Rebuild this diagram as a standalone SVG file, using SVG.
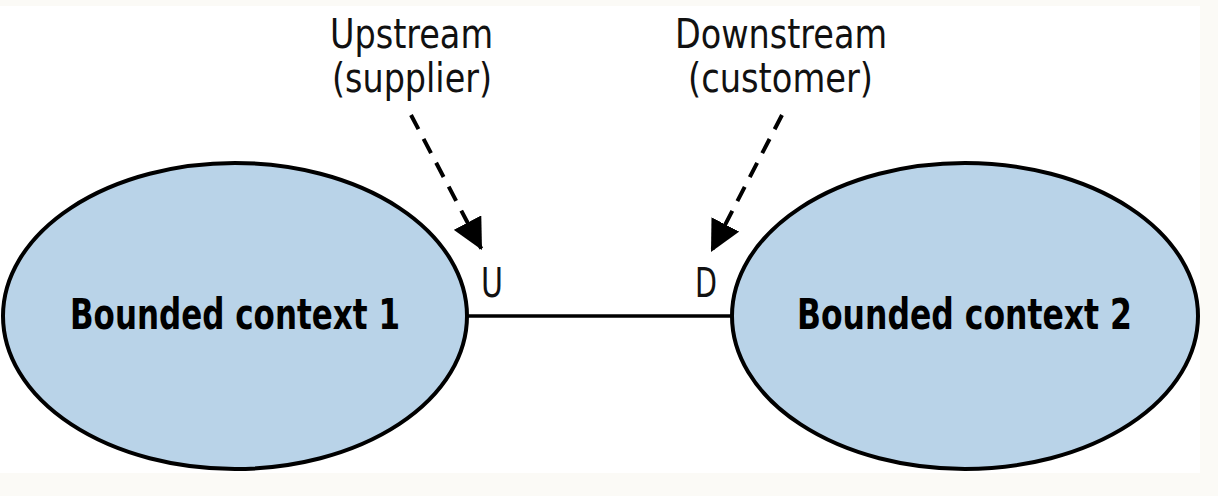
<svg xmlns="http://www.w3.org/2000/svg" width="1218" height="496" viewBox="0 0 1218 496">
  <style>
    .ctx { fill: #b9d3e8; stroke: #000; stroke-width: 4; }
    .title { font-family: "DejaVu Sans Condensed", "DejaVu Sans", sans-serif; font-stretch: condensed; font-weight: bold; font-size: 43px; fill: #000; }
    .lbl { font-family: "DejaVu Sans Condensed", "DejaVu Sans", sans-serif; font-stretch: condensed; font-size: 40px; fill: #111; }
    .dash { fill: none; stroke: #000; stroke-width: 4; stroke-dasharray: 16 11; }
    .link { fill: none; stroke: #000; stroke-width: 3.5; }
  </style>
  <defs>
    <marker id="arrow" viewBox="0 0 10 10" refX="10" refY="5" markerUnits="userSpaceOnUse" markerWidth="31" markerHeight="31" orient="auto">
      <path d="M0,0 L10,5 L0,10 Z" fill="#000"/>
    </marker>
  </defs>
  <rect x="0" y="0" width="1218" height="496" fill="#fbfaf6"/>
  <rect x="0" y="6" width="1200" height="467" fill="#ffffff"/>

  <g id="connectors">
    <line class="link" x1="467" y1="316" x2="732" y2="316"/>
    <line class="dash" x1="411" y1="115" x2="482" y2="250" marker-end="url(#arrow)"/>
    <line class="dash" x1="782" y1="115" x2="711" y2="252" marker-end="url(#arrow)"/>
  </g>

  <g id="bc1">
    <ellipse class="ctx" cx="235" cy="316" rx="232" ry="153"/>
    <text class="title" x="70" y="329" textLength="330" lengthAdjust="spacingAndGlyphs">Bounded context 1</text>
  </g>
  <g id="bc2">
    <ellipse class="ctx" cx="965" cy="316" rx="233" ry="153"/>
    <text class="title" x="797" y="329" textLength="335" lengthAdjust="spacingAndGlyphs">Bounded context 2</text>
  </g>

  <g id="upstream-label">
    <text class="lbl" x="330" y="48" textLength="163" lengthAdjust="spacingAndGlyphs">Upstream</text>
    <text class="lbl" x="332" y="92" textLength="160" lengthAdjust="spacingAndGlyphs">(supplier)</text>
  </g>
  <g id="downstream-label">
    <text class="lbl" x="675" y="48" textLength="212" lengthAdjust="spacingAndGlyphs">Downstream</text>
    <text class="lbl" x="688" y="92" textLength="185" lengthAdjust="spacingAndGlyphs">(customer)</text>
  </g>
  <g id="u-marker">
    <text class="lbl" x="481" y="297" textLength="22" lengthAdjust="spacingAndGlyphs">U</text>
  </g>
  <g id="d-marker">
    <text class="lbl" x="695" y="297" textLength="22" lengthAdjust="spacingAndGlyphs">D</text>
  </g>
</svg>
